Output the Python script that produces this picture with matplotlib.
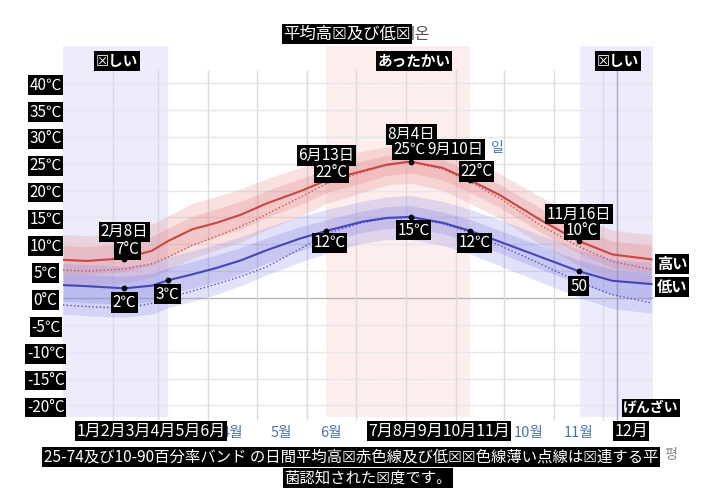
import matplotlib
matplotlib.use("Agg")
import matplotlib.pyplot as plt

plt.rcParams['font.family'] = ['Noto Sans CJK JP', 'DejaVu Sans']

# ---------------- data ----------------
days = [0, 15, 38, 55, 65, 80, 95, 110, 126, 147, 163, 185, 200, 215, 235, 252, 270, 295, 319, 340, 364]
high = [7.1, 6.9, 7.4, 8.8, 10.6, 12.8, 14.0, 15.5, 17.6, 19.9, 21.9, 23.6, 24.8, 25.4, 24.2, 21.9, 19.2, 14.6, 10.6, 8.1, 7.2]
high_feel = [5.2, 5.0, 5.4, 6.4, 7.6, 9.8, 11.5, 13.3, 15.6, 18.8, 21.3, 23.4, 24.7, 25.3, 24.0, 21.6, 18.6, 13.6, 9.6, 6.8, 5.3]
low = [2.4, 2.2, 1.8, 2.3, 3.3, 4.4, 5.6, 7.0, 8.9, 11.1, 12.5, 14.2, 14.9, 15.1, 14.0, 12.5, 10.5, 7.7, 5.0, 3.2, 2.6]
low_feel = [-1.3, -1.6, -1.9, -1.0, 0.0, 1.3, 2.6, 4.0, 5.8, 9.2, 12.0, 14.0, 14.8, 15.0, 13.8, 12.2, 9.8, 6.4, 3.0, 0.6, -0.9]

hi_p90 = [11.8, 11.6, 12.2, 13.8, 15.3, 17.6, 18.9, 20.3, 22.2, 24.3, 26.0, 27.3, 28.2, 28.5, 27.4, 25.5, 23.2, 18.9, 15.0, 12.6, 11.8]
hi_p75 = [9.8, 9.6, 10.1, 11.5, 13.0, 15.2, 16.6, 18.0, 20.0, 22.2, 24.0, 25.5, 26.5, 26.9, 25.8, 23.6, 21.2, 16.8, 12.9, 10.6, 9.8]
hi_p25 = [4.6, 4.4, 4.9, 6.1, 7.6, 9.8, 11.3, 12.8, 15.0, 17.4, 19.6, 21.4, 22.8, 23.3, 22.0, 19.6, 16.9, 12.3, 8.3, 5.6, 4.7]
hi_p10 = [2.5, 2.3, 2.8, 3.9, 5.2, 7.4, 8.9, 10.4, 12.7, 15.2, 17.6, 19.6, 21.0, 21.4, 20.0, 17.6, 14.8, 10.1, 6.1, 3.5, 2.6]
lo_p90 = [6.4, 6.2, 5.9, 6.5, 7.6, 8.8, 10.0, 11.4, 13.2, 15.2, 16.5, 18.0, 18.8, 19.1, 18.0, 16.5, 14.6, 11.8, 9.0, 7.2, 6.5]
lo_p75 = [4.6, 4.4, 4.0, 4.6, 5.6, 6.8, 8.0, 9.4, 11.2, 13.3, 14.6, 16.2, 17.0, 17.2, 16.0, 14.6, 12.6, 9.8, 7.1, 5.3, 4.7]
lo_p25 = [-0.6, -0.9, -1.2, -0.6, 0.6, 1.8, 3.0, 4.5, 6.5, 8.8, 10.4, 12.2, 12.9, 13.1, 12.0, 10.4, 8.4, 5.4, 2.7, 0.6, -0.4]
lo_p10 = [-3.0, -3.3, -3.6, -3.0, -1.8, -0.6, 0.7, 2.3, 4.3, 6.7, 8.3, 10.2, 10.9, 10.9, 9.8, 8.2, 6.0, 3.0, 0.2, -2.0, -2.8]

# annotated points
hi_mark_days = [38, 163, 215, 252, 319]
hi_mark_vals = [7.3, 21.9, 25.4, 21.9, 10.6]
lo_mark_days = [38, 65, 163, 215, 252, 319]
lo_mark_vals = [1.8, 3.3, 12.5, 15.1, 12.5, 5.0]

cold_spans = [(0, 65), (320, 365)]
warm_spans = [(163, 252)]
today = 343

month_starts = [31, 59, 90, 120, 151, 181, 212, 243, 273, 304, 334]
# visible Korean month labels (the others are hidden under the Japanese overlay)
month_mids = [105, 135, 166, 288, 319]
month_labels_ko = ['4월', '5월', '6월', '10월', '11월']

ytick_vals = [40, 35, 30, 25, 20, 15, 10, 5, 0, -5, -10, -15, -20]
ytick_labels = ['40℃', '35℃', '30°C', '25℃', '20℃', '15℃', '10℃', '5℃', '0°C', '-5℃', '-10℃', '-15°C', '-20°C']

# ---------------- figure ----------------
W, H = 717, 494
fig = plt.figure(figsize=(W / 100, H / 100), dpi=100)
ax = fig.add_axes([63 / W, 1 - 421.6 / H, 590 / W, (421.6 - 46) / H])
ax.set_xlim(0, 365)
ax.set_ylim(-23, 46.9)
for s in ax.spines.values():
    s.set_visible(False)

for a, b in cold_spans:
    ax.fill_between([a, b], -22.1, 46.9, color='#ececfc', zorder=0, lw=0)
for a, b in warm_spans:
    ax.fill_between([a, b], -22.1, 46.9, color='#fdeded', zorder=0, lw=0)

for v in ytick_vals:
    ax.axhline(v, color='#b5b5b5' if v == 0 else '#e6e6ec', lw=1, zorder=1)
ax.vlines(month_starts, -22.7, 42.4, color='#dadae4', lw=1, zorder=1)
ax.vlines([today], -22.7, 42.4, color='#a8a8c4', lw=1, zorder=1)

# bands
ax.fill_between(days, hi_p10, hi_p90, color='#e88a8a', alpha=0.25, lw=0, zorder=2)
ax.fill_between(days, hi_p25, hi_p75, color='#e07a7a', alpha=0.25, lw=0, zorder=2)
ax.fill_between(days, lo_p10, lo_p90, color='#8a8ae8', alpha=0.25, lw=0, zorder=2)
ax.fill_between(days, lo_p25, lo_p75, color='#7a7ae0', alpha=0.25, lw=0, zorder=2)

ax.plot(days, high_feel, color='#c85050', lw=1, ls=':', zorder=3)
ax.plot(days, low_feel, color='#5050c0', lw=1, ls=':', zorder=3)
ax.plot(days, high, color='#c84646', lw=1.5, zorder=4)
ax.plot(days, low, color='#4646bc', lw=1.5, zorder=4)
ax.scatter(hi_mark_days, hi_mark_vals, s=10, color='black', zorder=5)
ax.scatter(lo_mark_days, lo_mark_vals, s=10, color='black', zorder=5)

# ticks
ax.set_yticks(ytick_vals)
ax.set_yticklabels(ytick_labels)
ax.tick_params(axis='y', length=0, pad=12.5, labelsize=11, labelcolor='white')
for t in ax.get_yticklabels():
    t.set_ha('center')
    t.set_bbox(dict(facecolor='black', edgecolor='none', pad=1))
ax.set_xticks(month_mids)
ax.set_xticklabels(month_labels_ko)
ax.tick_params(axis='x', length=0, pad=3, labelsize=10.5, labelcolor='#4a74a8')

box = dict(facecolor='black', edgecolor='none', pad=1.2)

def ann(txt, d, v, dx, dy, fs=11, bold=False):
    ax.annotate(txt, xy=(d, v), xytext=(dx * 0.72, dy * 0.72), textcoords='offset points',
                ha='center', va='center', color='white', fontsize=fs,
                fontweight='bold' if bold else 'normal', bbox=box, zorder=6)

ann('2月8日', 38, 7.3, 0, 27)
ann('7°C', 38, 7.3, 3, 9)
ann('2℃', 38, 1.8, 0, -14)
ann('3℃', 65, 3.3, -1, -14)
ann('6月13日', 163, 21.9, 0, 25)
ann('22°C', 163, 21.9, 5, 8)
ann('12℃', 163, 12.5, 3, -12)
ax.annotate('일', xy=(252, 21.9), xytext=(15, 23), textcoords='offset points', ha='left', va='center',
            color='#4a74a8', fontsize=10, zorder=5.5)
ann('8月4日', 215, 25.4, 1, 27)
ann('9月10日', 252, 21.9, -15, 31)
ann('25℃', 215, 25.4, -1, 12)
ann('22°C', 252, 21.9, 6, 9)
ann('15℃', 215, 15.1, 3, -13)
ann('12℃', 252, 12.5, 4, -12)
ann('11月16日', 319, 10.6, 0, 27)
ann('10°C', 319, 10.6, 3, 11)
ann('50', 319, 5.0, 0, -15)

# ---------------- overlay texts (figure pixels) ----------------
def ftxt(x, y, s, ha='center', fs=11, bold=False, color='white', bg=True, z=10, style='normal'):
    fig.text(x / W, 1 - y / H, s, ha=ha, va='center', fontsize=fs, color=color,
             fontweight='bold' if bold else 'normal', style=style,
             bbox=box if bg else None, zorder=z)

ftxt(400, 34, '기온', ha='left', fs=11.5, color='#555555', bg=False, z=9)
ftxt(347, 34, '平均高☒及び低☒', fs=11.8)
ftxt(117, 61, '☒しい', fs=10.5, bold=True)
ftxt(414, 61, 'あったかい', fs=10.5, bold=True)
ftxt(618, 61, '☒しい', fs=10.5, bold=True)
ftxt(651, 408, 'げんざい', fs=10, bold=True)
ftxt(672, 264, '高い', fs=11, bold=True)
ftxt(672, 287, '低い', fs=11, bold=True)
ftxt(151, 431, '1月2月3月4月5月6月', fs=11.5)
ftxt(439, 431, '7月8月9月10月11月', fs=11.5)
ftxt(631, 431, '12月', fs=11.5)
ftxt(664, 455, '평', ha='left', fs=10, color='#888888', bg=False, z=9, style='italic')
ftxt(351, 457, '25-74及び10-90百分率バンド の日間平均高☒赤色線及び低☒☒色線薄い点線は☒連する平', fs=11.1)
ftxt(368, 478, '菌認知された☒度です。', fs=11.1)

fig.savefig('out.png', dpi=100)
